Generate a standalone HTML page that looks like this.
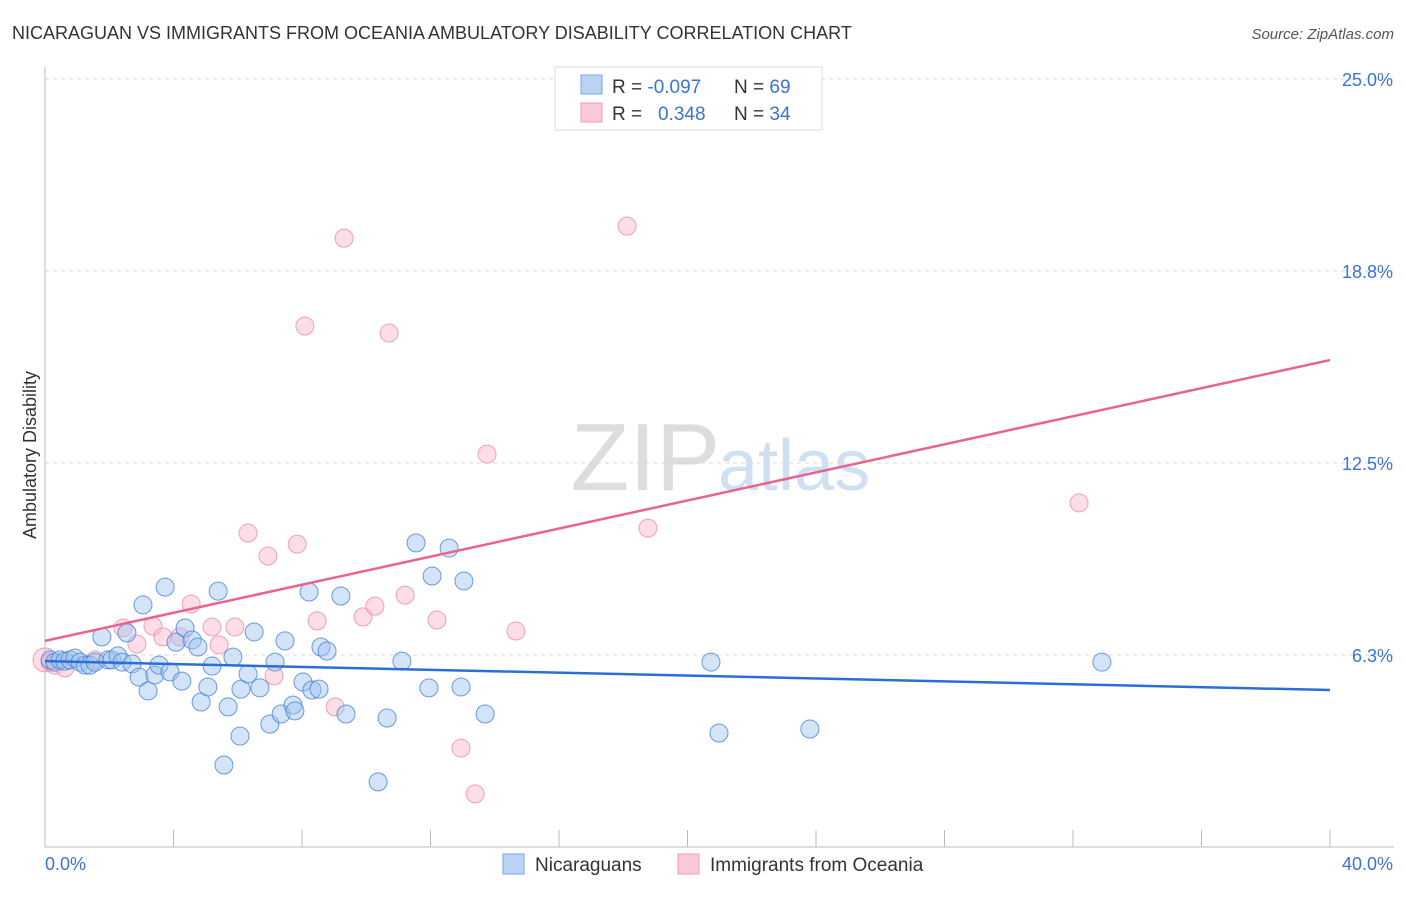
<!DOCTYPE html>
<html><head><meta charset="utf-8"><style>
body{margin:0;background:#fff;font-family:"Liberation Sans",sans-serif;}
svg text{font-family:"Liberation Sans",sans-serif;}
</style></head><body>
<svg id="chart" width="1406" height="892" xmlns="http://www.w3.org/2000/svg">
<text x="12" y="39" font-size="18" fill="#333">NICARAGUAN VS IMMIGRANTS FROM OCEANIA AMBULATORY DISABILITY CORRELATION CHART</text>
<text x="1394" y="39" font-size="15" fill="#555" font-style="italic" text-anchor="end">Source: ZipAtlas.com</text>
<text x="720" y="490" font-size="96" fill="#ddd" font-family="Liberation Serif" text-anchor="end">ZIP</text>
<text x="718" y="490" font-size="72" fill="#cfe0f3">atlas</text>
<g id="grid"></g>
<g id="axes"></g>
<g id="marks"></g>
<text x="36" y="455" font-size="18" fill="#333" text-anchor="middle" transform="rotate(-90 36 455)">Ambulatory Disability</text>
<g>
<rect x="555" y="67" width="267" height="63" fill="#fff" stroke="#ddd"/>
<rect x="581" y="75" width="21" height="19" fill="#b9d3f5" stroke="#7aa6e6"/>
<rect x="581" y="103" width="21" height="19" fill="#fcc9d8" stroke="#f09ab4"/>
<text x="612" y="93" font-size="19" fill="#333">R = <tspan fill="#3b73d1">-0.097</tspan></text>
<text x="734" y="93" font-size="19" fill="#333">N = <tspan fill="#3b73d1">69</tspan></text>
<text x="612" y="120" font-size="19" fill="#333">R = <tspan fill="#3b73d1" x="658">0.348</tspan></text>
<text x="734" y="120" font-size="19" fill="#333">N = <tspan fill="#3b73d1">34</tspan></text>
</g>
<g>
<rect x="503" y="854" width="21" height="20" fill="#b9d3f5" stroke="#7aa6e6"/>
<text x="535" y="871" font-size="19" fill="#333">Nicaraguans</text>
<rect x="678" y="854" width="21" height="20" fill="#fcc9d8" stroke="#f09ab4"/>
<text x="710" y="871" font-size="19" fill="#333">Immigrants from Oceania</text>
</g>
</svg>
<script>
const yTicks=[6.3,12.5,18.8,25.0];
const yTickLabels=["6.3%","12.5%","18.8%","25.0%"];
const xTickCount=10;
const xLabels=["0.0%","40.0%"];
const blueX=[0.16,0.31,0.47,0.62,0.78,0.93,1.09,1.25,1.40,1.56,1.77,1.96,2.08,2.27,2.40,2.55,2.71,2.93,3.05,3.21,3.42,3.55,3.74,3.89,4.08,4.26,4.36,4.58,4.76,4.86,5.07,5.20,5.39,5.57,5.70,5.85,6.07,6.10,6.32,6.51,6.69,7.00,7.16,7.35,7.47,7.72,7.78,8.03,8.22,8.31,8.53,8.59,8.78,9.21,9.37,10.37,10.65,11.11,11.55,11.95,12.05,12.58,12.95,13.04,13.70,20.73,20.98,23.81,32.90];
const blueY=[6.09,6.02,6.09,6.05,6.09,6.15,6.02,5.92,5.92,6.02,6.84,6.09,6.09,6.22,6.02,6.97,5.96,5.53,7.88,5.08,5.60,5.92,8.46,5.70,6.67,5.40,7.13,6.74,6.51,4.72,5.21,5.89,8.33,2.67,4.56,6.18,3.61,5.14,5.63,7.00,5.18,4.00,6.02,4.33,6.71,4.62,4.43,5.37,8.30,5.11,5.14,6.51,6.38,8.17,4.33,2.12,4.20,6.05,9.90,5.18,8.82,9.73,5.21,8.66,4.33,6.02,3.71,3.84,6.02];
const pinkX=[0,0.16,0.31,0.62,1.56,2.43,2.86,3.36,3.67,4.20,4.55,5.20,5.42,5.91,6.32,6.94,7.13,7.85,8.09,8.47,9.03,9.31,9.90,10.27,10.71,11.21,12.20,12.95,13.39,13.76,14.66,18.12,18.77,32.19];
const pinkY=[6.09,6.02,5.92,5.83,6.09,7.13,6.61,7.19,6.84,6.84,7.91,7.16,6.58,7.16,10.22,9.47,5.57,9.86,16.96,7.36,4.56,19.82,7.49,7.84,16.73,8.20,7.39,3.22,1.73,12.79,7.03,20.21,10.38,11.20];
const blueTrend=[6.05,5.11];
const pinkTrend=[6.71,15.85];
const NS="http://www.w3.org/2000/svg";
const X0=45,X1=1330,Y0=847;
const sx=v=>X0+v/40*(X1-X0);
const sy=v=>Y0-v*192/6.25;
function mk(tag,attrs,parent){const e=document.createElementNS(NS,tag);for(const k in attrs)e.setAttribute(k,attrs[k]);parent.appendChild(e);return e;}
const grid=document.getElementById('grid'),axes=document.getElementById('axes'),marks=document.getElementById('marks');
yTicks.forEach((t,i)=>{
  const y=sy(t===6.3?6.25:t===18.8?18.75:t);
  const l=mk('line',{x1:X0,x2:1394,y1:y,y2:y,stroke:'#d8d8d8','stroke-dasharray':'4,4'},grid);
  
  
  const tx=mk('text',{x:1393,y:y-152/8+26,'font-size':18,fill:'#3b73d1','text-anchor':'end'},axes);
  
  
  tx.textContent=yTickLabels[i];
});
const ax=mk('line',{x1:X0,x2:X0,y1:67,y2:Y0,stroke:'#bbb'},axes);


const bx=mk('line',{x1:X0,x2:1394,y1:Y0,y2:Y0,stroke:'#bbb'},axes);


for(let i=0;i<=xTickCount;i++){
  const x=sx(i*40/xTickCount);
  const t=mk('line',{x1:x,x2:x,y1:830,y2:Y0,stroke:'#bbb'},axes);
  
  
}
const xl0=mk('text',{x:45,y:870,'font-size':18,fill:'#3b73d1'},axes);


xl0.textContent=xLabels[0];
const xl1=mk('text',{x:1393,y:870,'font-size':18,fill:'#3b73d1','text-anchor':'end'},axes);


xl1.textContent=xLabels[1];
pinkX.forEach((x,i)=>{
  const c=mk('circle',{cx:sx(x),cy:sy(pinkY[i]),r:i===0?12:9,fill:'rgba(250,180,200,0.45)',stroke:'rgba(235,140,170,0.8)','stroke-width':1},marks);
  
  
});
blueX.forEach((x,i)=>{
  const c=mk('circle',{cx:sx(x),cy:sy(blueY[i]),r:9,fill:'rgba(160,196,240,0.45)',stroke:'rgba(70,130,220,0.8)','stroke-width':1},marks);
  
  
});
const bt=mk('line',{x1:sx(0),y1:sy(blueTrend[0]),x2:sx(40),y2:sy(blueTrend[1]),stroke:'#2a6fd6','stroke-width':2.5},marks);


const pt=mk('line',{x1:sx(0),y1:sy(pinkTrend[0]),x2:sx(40),y2:sy(pinkTrend[1]),stroke:'#e8648f','stroke-width':2.5},marks);


</script>
</body></html>
